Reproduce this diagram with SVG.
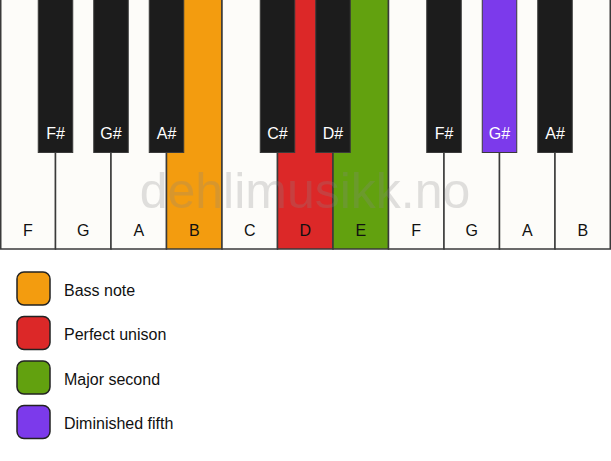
<svg xmlns="http://www.w3.org/2000/svg" width="611" height="461" viewBox="0 0 611 461">
<style>
.w{fill:#fdfcf9;stroke:#3a3a3a;stroke-width:1.5}
.b{fill:#1c1c1c;stroke:#3a3a3a;stroke-width:1}
.t{font-family:"Liberation Sans",Arial,sans-serif;font-size:16px;text-anchor:middle;fill:#111}
.bt{font-family:"Liberation Sans",Arial,sans-serif;font-size:16px;text-anchor:middle;fill:#fff}
.lg{stroke:#222;stroke-width:1.5}
.lt{font-family:"Liberation Sans",Arial,sans-serif;font-size:16px;fill:#111}
</style>
<rect width="611" height="461" fill="#ffffff"/>
<g id="white-keys">
<g id="wF1"><rect class="w" x="0.75" y="-1" width="54.75" height="250"/><text class="t" x="28" y="236">F</text></g>
<g id="wG1"><rect class="w" x="55.5" y="-1" width="55.5" height="250"/><text class="t" x="83.25" y="236">G</text></g>
<g id="wA1"><rect class="w" x="111" y="-1" width="55.5" height="250"/><text class="t" x="138.75" y="236">A</text></g>
<g id="wB1"><rect class="w" x="166.5" y="-1" width="55.5" height="250" style="fill:#f39c0f"/><text class="t" x="194.25" y="236">B</text></g>
<g id="wC1"><rect class="w" x="222" y="-1" width="55.5" height="250"/><text class="t" x="249.75" y="236">C</text></g>
<g id="wD1"><rect class="w" x="277.5" y="-1" width="55.5" height="250" style="fill:#dc2828"/><text class="t" x="305.25" y="236">D</text></g>
<g id="wE1"><rect class="w" x="333" y="-1" width="55.5" height="250" style="fill:#62a10f"/><text class="t" x="360.75" y="236">E</text></g>
<g id="wF2"><rect class="w" x="388.5" y="-1" width="55.5" height="250"/><text class="t" x="416.25" y="236">F</text></g>
<g id="wG2"><rect class="w" x="444" y="-1" width="55.5" height="250"/><text class="t" x="471.75" y="236">G</text></g>
<g id="wA2"><rect class="w" x="499.5" y="-1" width="55.5" height="250"/><text class="t" x="527.25" y="236">A</text></g>
<g id="wB2"><rect class="w" x="555" y="-1" width="55.25" height="250"/><text class="t" x="582.75" y="236">B</text></g>
</g>
<text x="305" y="208" font-family="'Liberation Sans',Arial,sans-serif" font-size="50" text-anchor="middle" fill="#888" opacity="0.25">dehlimusikk.no</text>
<g id="black-keys">
<g id="bFs1"><rect class="b" x="38.25" y="-1" width="34.5" height="153.5"/><text class="bt" x="55.5" y="139">F#</text></g>
<g id="bGs1"><rect class="b" x="93.75" y="-1" width="34.5" height="153.5"/><text class="bt" x="111" y="139">G#</text></g>
<g id="bAs1"><rect class="b" x="149.25" y="-1" width="34.5" height="153.5"/><text class="bt" x="166.5" y="139">A#</text></g>
<g id="bCs1"><rect class="b" x="260.25" y="-1" width="34.5" height="153.5"/><text class="bt" x="277.5" y="139">C#</text></g>
<g id="bDs1"><rect class="b" x="315.75" y="-1" width="34.5" height="153.5"/><text class="bt" x="333" y="139">D#</text></g>
<g id="bFs2"><rect class="b" x="426.75" y="-1" width="34.5" height="153.5"/><text class="bt" x="444" y="139">F#</text></g>
<g id="bGs2"><rect class="b" x="482.25" y="-1" width="34.5" height="153.5" style="fill:#7c3aeb"/><text class="bt" x="499.5" y="139">G#</text></g>
<g id="bAs2"><rect class="b" x="537.75" y="-1" width="34.5" height="153.5"/><text class="bt" x="555" y="139">A#</text></g>
</g>
<g id="legend">
<g id="lg-bass"><rect class="lg" x="17" y="272" width="33" height="33" rx="7" fill="#f39c0f"/><text class="lt" x="64" y="295.5">Bass note</text></g>
<g id="lg-unison"><rect class="lg" x="17" y="316.5" width="33" height="33" rx="7" fill="#dc2828"/><text class="lt" x="64" y="340">Perfect unison</text></g>
<g id="lg-second"><rect class="lg" x="17" y="361" width="33" height="33" rx="7" fill="#62a10f"/><text class="lt" x="64" y="384.5">Major second</text></g>
<g id="lg-fifth"><rect class="lg" x="17" y="405.5" width="33" height="33" rx="7" fill="#7c3aeb"/><text class="lt" x="64" y="429">Diminished fifth</text></g>
</g>
<g id="connectors"/>
</svg>
